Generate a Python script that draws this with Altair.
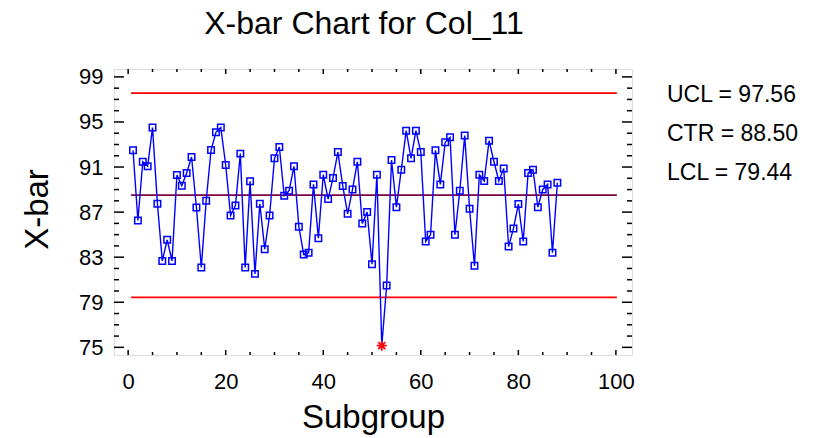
import altair as alt
import pandas as pd

# ---- data ----
subgroups = list(range(1, 89))
xbar = [92.48, 86.26, 91.47, 91.06, 94.50, 87.74, 82.67, 84.54, 82.67, 90.29,
        89.34, 90.47, 91.89, 87.41, 82.08, 88.01, 92.51, 94.08, 94.50, 91.18,
        86.70, 87.59, 92.19, 82.08, 89.73, 81.52, 87.74, 83.71, 86.70, 91.77,
        92.78, 88.45, 88.90, 91.06, 85.70, 83.24, 83.39, 89.46, 84.69, 90.32,
        88.16, 90.02, 92.33, 89.31, 86.85, 89.01, 91.47, 85.99, 87.00, 82.38,
        90.32, 75.15, 80.48, 91.62, 87.44, 90.76, 94.23, 91.77, 94.23, 92.33,
        84.39, 84.99, 92.48, 89.46, 93.19, 93.64, 84.99, 88.90, 93.79, 87.30,
        82.23, 90.32, 89.76, 93.34, 91.47, 89.76, 90.88, 83.95, 85.55, 87.71,
        84.39, 90.47, 90.76, 87.44, 89.01, 89.46, 83.39, 89.61]
limit_names = ["UCL", "CTR", "LCL"]
limit_values = [97.56, 88.50, 79.44]
limit_colors = ["#FF0000", "#800040", "#FF0000"]
limit_span = [0.6, 100.2]
x_labels = [0, 20, 40, 60, 80, 100]
y_labels = [75, 79, 83, 87, 91, 95, 99]
x_minor = list(range(0, 101, 5))
y_minor = list(range(75, 100, 1))

W, H = 518, 286
FONT = "Liberation Sans"
ucl, ctr, lcl = limit_values

df = pd.DataFrame({"Subgroup": subgroups, "X-bar": xbar})
df["out"] = (df["X-bar"] > ucl) | (df["X-bar"] < lcl)

lim = pd.DataFrame({"name": limit_names, "value": limit_values,
                    "x0": [limit_span[0]] * 3, "x1": [limit_span[1]] * 3})

xs = alt.Scale(domain=[-2.9, 103.3], nice=False, zero=False)
ys = alt.Scale(domain=[74.32, 99.7], nice=False, zero=False)

x_axis = alt.Axis(values=x_labels, ticks=False, tickSize=0, domain=False, grid=False,
                  labelFont=FONT, labelFontSize=22, labelPadding=16, labelColor="black",
                  title="Subgroup", titleFont=FONT, titleFontSize=33, titleFontWeight="normal",
                  titleColor="black", titleX=259, titleY=72, titleBaseline="alphabetic",
                  titleAlign="center")
y_axis = alt.Axis(values=y_labels, ticks=False, tickSize=0, domain=False, grid=False,
                  labelFont=FONT, labelFontSize=22, labelPadding=11, labelColor="black",
                  title="X-bar", titleFont=FONT, titleFontSize=33, titleFontWeight="normal",
                  titleColor="black", titleX=-67, titleY=140, titleAngle=270,
                  titleBaseline="alphabetic", titleAlign="center")

base = alt.Chart(df)

line = base.mark_line(color="#0000FF", strokeWidth=1.4).encode(
    x=alt.X("Subgroup:Q", scale=xs, axis=x_axis),
    y=alt.Y("X-bar:Q", scale=ys, axis=y_axis),
)

squares = base.transform_filter("!datum.out").mark_point(
    shape="square", filled=False, color="#0000FF", size=42, strokeWidth=1.5, opacity=1
).encode(x=alt.X("Subgroup:Q", scale=xs), y=alt.Y("X-bar:Q", scale=ys))

asterisk = "M-1,0L1,0M0,-1L0,1M-0.7,-0.7L0.7,0.7M-0.7,0.7L0.7,-0.7"
stars = base.transform_filter("datum.out").mark_point(
    shape=asterisk, filled=False, color="#FF0000", size=100, strokeWidth=1.7, opacity=1
).encode(x=alt.X("Subgroup:Q", scale=xs), y=alt.Y("X-bar:Q", scale=ys))

limits = alt.Chart(lim).mark_rule(strokeWidth=1.7).encode(
    x=alt.X("x0:Q", scale=xs),
    x2="x1:Q",
    y=alt.Y("value:Q", scale=ys),
    color=alt.Color("name:N", scale=alt.Scale(domain=limit_names, range=limit_colors), legend=None),
)

def yticks(vals, length):
    d = pd.DataFrame({"v": vals})
    left = alt.Chart(d).mark_rule(color="black", strokeWidth=1.5).encode(
        y=alt.Y("v:Q", scale=ys), x=alt.value(0), x2=alt.value(length))
    right = alt.Chart(d).mark_rule(color="black", strokeWidth=1.5).encode(
        y=alt.Y("v:Q", scale=ys), x=alt.value(W - length), x2=alt.value(W))
    return [left, right]

def xticks(vals, length):
    d = pd.DataFrame({"v": vals})
    bottom = alt.Chart(d).mark_rule(color="black", strokeWidth=1.5).encode(
        x=alt.X("v:Q", scale=xs), y=alt.value(H - length), y2=alt.value(H))
    top = alt.Chart(d).mark_rule(color="black", strokeWidth=1.5).encode(
        x=alt.X("v:Q", scale=xs), y=alt.value(0), y2=alt.value(length))
    return [bottom, top]

tick_layers = (yticks([v for v in y_minor if v not in y_labels], 5) + yticks(y_labels, 10)
               + xticks([v for v in x_minor if v not in x_labels], 3) + xticks(x_labels, 5))

ann_texts = [f"{n} = {v:.2f}" for n, v in zip(limit_names, limit_values)]
ann_y = [33, 72, 111]
ann_layers = [
    alt.Chart(pd.DataFrame({"t": [t]})).mark_text(
        font=FONT, fontSize=23, align="left", baseline="alphabetic", color="black"
    ).encode(text="t:N", x=alt.value(553), y=alt.value(yy))
    for t, yy in zip(ann_texts, ann_y)
]

chart = alt.layer(
    limits, line, squares, stars, *tick_layers, *ann_layers
).properties(
    width=W, height=H,
    title=alt.TitleParams("X-bar Chart for Col_11", font=FONT, fontSize=32, fontWeight="normal",
                          color="black", anchor="middle", baseline="alphabetic", offset=0, dx=-9),
    autosize=alt.AutoSizeParams(type="none"),
    padding={"left": 114, "top": 69, "right": 184, "bottom": 83},
).configure_view(stroke="black", strokeWidth=2).configure(background="white")

chart.save("out.html", embed_options={"renderer": "svg", "actions": False})
